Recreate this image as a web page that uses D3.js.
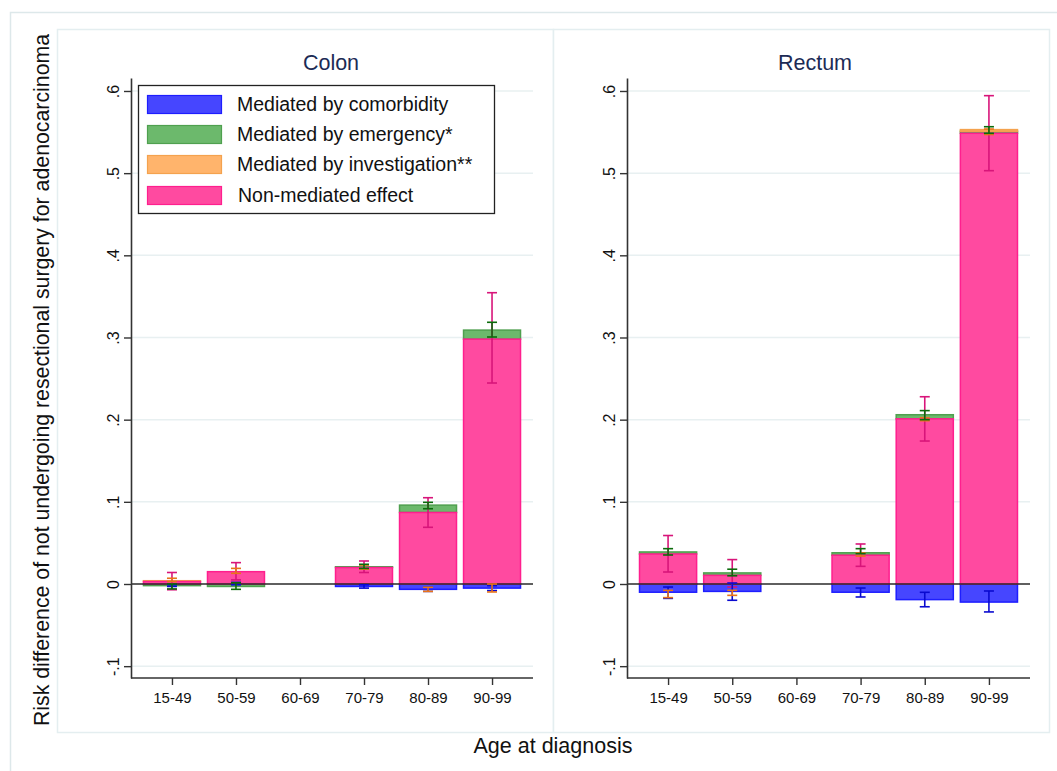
<!DOCTYPE html>
<html>
<head>
<meta charset="utf-8">
<script src="https://cdn.jsdelivr.net/npm/d3@7"></script>
<style>
  html, body { margin: 0; padding: 0; background: #ffffff; }
  svg { display: block; font-family: "Liberation Sans", Arial, sans-serif; }
</style>
</head>
<body>
<svg id="chart" width="1057" height="771"></svg>
<script>
// ---------------- data ----------------
const categories = ["15-49", "50-59", "60-69", "70-79", "80-89", "90-99"];
const panels = ["Colon", "Rectum"];
const yTicks = [-0.1, 0, 0.1, 0.2, 0.3, 0.4, 0.5, 0.6];
const yTickLabels = ["-.1", "0", ".1", ".2", ".3", ".4", ".5", ".6"];
const seriesNames = ["Mediated by comorbidity", "Mediated by emergency*", "Mediated by investigation**", "Non-mediated effect"];

// Colon: component values (null = no data)
const colonComorb = [0.000, 0.000, null, -0.003, -0.0065, -0.005];
const colonEmerg  = [-0.002, -0.003, null, 0.001, 0.009, 0.011];
const colonInvest = [0.001, 0.000, null, 0.000, 0.000, 0.000];
const colonNonmed = [0.003, 0.015, null, 0.020, 0.087, 0.298];
// Colon: confidence intervals [low, high] at stacked position
const colonComorbCI = [[-0.003, -0.001], [-0.001, 0.002], null, [-0.005, -0.001], [-0.009, -0.004], [-0.008, -0.002]];
const colonEmergCI  = [[-0.006, 0.000], [-0.0065, 0.0015], null, [0.019, 0.024], [0.0916, 0.0994], [0.3006, 0.3185]];
const colonInvestCI = [[0.003, 0.007], [0.013, 0.019], null, [0.018, 0.023], [-0.009, -0.004], [-0.0097, 0.000]];
const colonNonmedCI = [[-0.007, 0.014], [0.005, 0.026], null, [0.014, 0.028], [0.069, 0.105], [0.2446, 0.3545]];

// Rectum: component values
const rectumComorb = [-0.010, -0.009, null, -0.010, -0.019, -0.022];
const rectumEmerg  = [0.0025, 0.003, null, 0.003, 0.005, 0.0025];
const rectumInvest = [0.000, 0.000, null, 0.000, 0.000, 0.002];
const rectumNonmed = [0.0365, 0.0105, null, 0.035, 0.201, 0.5485];
// Rectum: confidence intervals
const rectumComorbCI = [[-0.0175, -0.0037], [-0.0198, 0.0012], null, [-0.0158, -0.0049], [-0.0277, -0.0101], [-0.034, -0.0085]];
const rectumEmergCI  = [[0.0353, 0.043], [0.010, 0.018], null, [0.037, 0.043], [0.200, 0.211], [0.5485, 0.5565]];
const rectumInvestCI = [[-0.0166, -0.0077], [-0.0138, -0.0077], null, [0.034, 0.038], [0.1987, 0.2024], [0.547, 0.5537]];
const rectumNonmedCI = [[0.0146, 0.059], [-0.0037, 0.0297], null, [0.0215, 0.0487], [0.174, 0.2279], [0.503, 0.5943]];

// ---------------- styles ----------------
const fills   = { comorb: "#4646ff", emerg: "#6cb96c", invest: "#ffb46c", nonmed: "#ff4aa0" };
const strokes = { comorb: "#1e1eff", emerg: "#4fa04f", invest: "#f4a24e", nonmed: "#ff1f8e" };
const errCols = { comorb: "#0a0ad0", emerg: "#0b6b0b", invest: "#e8741a", nonmed: "#d8157a" };
const keys = ["comorb", "emerg", "invest", "nonmed"];

const panelData = [
  { title: "Colon",
    vals: { comorb: colonComorb, emerg: colonEmerg, invest: colonInvest, nonmed: colonNonmed },
    ci:   { comorb: colonComorbCI, emerg: colonEmergCI, invest: colonInvestCI, nonmed: colonNonmedCI },
    axisX: 131, axisEnd: 533, boxX: 57, boxW: 496, titleX: 331 },
  { title: "Rectum",
    vals: { comorb: rectumComorb, emerg: rectumEmerg, invest: rectumInvest, nonmed: rectumNonmed },
    ci:   { comorb: rectumComorbCI, emerg: rectumEmergCI, invest: rectumInvestCI, nonmed: rectumNonmedCI },
    axisX: 627, axisEnd: 1030, boxX: 553, boxW: 496, titleX: 815 }
];

const svg = d3.select("#chart");

// outer frame
svg.append("rect").attr("x", 10.5).attr("y", 12.5).attr("width", 1060).attr("height", 770)
  .attr("fill", "#ffffff").attr("stroke", "#dde8ea").attr("stroke-width", 1.5);

const yTop = 78, yBot = 678;
const y = d3.scaleLinear().domain([-0.1144, 0.6158]).range([yBot, yTop]);

// stacking order for positive / negative parts
const stackOrder = ["nonmed", "emerg", "invest", "comorb"];
const negOrder = ["comorb", "invest", "emerg", "nonmed"];

panelData.forEach(p => {
  const g = svg.append("g");
  // panel box
  g.append("rect").attr("x", p.boxX + 0.5).attr("y", 29.5).attr("width", p.boxW).attr("height", 703)
    .attr("fill", "#ffffff").attr("stroke", "#e4eef0").attr("stroke-width", 1.5);

  g.append("text").attr("x", p.titleX).attr("y", 70).attr("text-anchor", "middle")
    .attr("font-size", 21.5).attr("fill", "#1c2b55").text(p.title);

  const x = d3.scalePoint().domain(categories).range([p.axisX, p.axisEnd]).padding(0.64);
  const bw = x.step() * 0.89;

  // gridlines
  g.selectAll(".grid").data(yTicks.filter(t => t !== 0)).join("line")
    .attr("x1", p.axisX).attr("x2", p.axisEnd)
    .attr("y1", d => y(d)).attr("y2", d => y(d))
    .attr("stroke", "#e8f0f1").attr("stroke-width", 1.5);

  // stacked bars
  const segs = [];
  categories.forEach((c, i) => {
    if (p.vals.nonmed[i] === null) return;
    let pos = 0, neg = 0;
    const tmp = {};
    stackOrder.forEach(k => {
      const v = p.vals[k][i];
      if (v > 0) { tmp[k] = [pos, pos + v]; pos += v; }
    });
    negOrder.forEach(k => {
      const v = p.vals[k][i];
      if (v < 0) { tmp[k] = [neg + v, neg]; neg += v; }
    });
    keys.forEach(k => { if (tmp[k]) segs.push({ c, k, y0: tmp[k][0], y1: tmp[k][1] }); });
  });
  g.selectAll(".bar").data(segs).join("rect")
    .attr("x", d => x(d.c) - bw / 2)
    .attr("width", bw)
    .attr("y", d => y(d.y1))
    .attr("height", d => Math.max(0.5, y(d.y0) - y(d.y1)))
    .attr("fill", d => fills[d.k])
    .attr("stroke", d => strokes[d.k])
    .attr("stroke-width", 1.5);

  // zero line
  g.append("line").attr("x1", p.axisX).attr("x2", p.axisEnd)
    .attr("y1", y(0)).attr("y2", y(0)).attr("stroke", "#2a2a2a").attr("stroke-width", 1.6);

  // error bars
  const errOrder = ["nonmed", "comorb", "invest", "emerg"];
  errOrder.forEach(k => {
    const data = categories.map((c, i) => ({ c, ci: p.ci[k][i] })).filter(d => d.ci);
    const eg = g.append("g").attr("stroke", errCols[k]).attr("stroke-width", 1.6);
    eg.selectAll(".v").data(data).join("line")
      .attr("x1", d => x(d.c)).attr("x2", d => x(d.c))
      .attr("y1", d => y(d.ci[0])).attr("y2", d => y(d.ci[1]));
    eg.selectAll(".lo").data(data).join("line")
      .attr("x1", d => x(d.c) - 5).attr("x2", d => x(d.c) + 5)
      .attr("y1", d => y(d.ci[0])).attr("y2", d => y(d.ci[0]));
    eg.selectAll(".hi").data(data).join("line")
      .attr("x1", d => x(d.c) - 5).attr("x2", d => x(d.c) + 5)
      .attr("y1", d => y(d.ci[1])).attr("y2", d => y(d.ci[1]));
  });

  // y axis
  const yAxis = d3.axisLeft(y).tickValues(yTicks).tickSize(7).tickSizeOuter(0)
    .tickFormat((d, i) => yTickLabels[i]);
  const ya = g.append("g").attr("transform", `translate(${p.axisX},0)`).call(yAxis);
  ya.select(".domain").attr("stroke", "#333").attr("stroke-width", 1.6);
  ya.selectAll(".tick line").attr("stroke", "#333").attr("stroke-width", 1.4);
  ya.selectAll(".tick text")
    .attr("font-size", 16).attr("fill", "#111").attr("font-family", "Liberation Sans, Arial, sans-serif")
    .attr("transform", "rotate(-90)")
    .attr("x", 0).attr("y", -12).attr("dy", 0)
    .attr("text-anchor", "middle");

  // x axis
  const xAxis = d3.axisBottom(x).tickSize(7).tickSizeOuter(0);
  const xa = g.append("g").attr("transform", `translate(0,${yBot})`).call(xAxis);
  xa.select(".domain").attr("stroke", "#333").attr("stroke-width", 1.6)
    .attr("d", `M${p.axisX},0H${p.axisEnd}`);
  xa.selectAll(".tick line").attr("stroke", "#333").attr("stroke-width", 1.4);
  xa.selectAll(".tick text").attr("font-size", 15).attr("fill", "#111")
    .attr("font-family", "Liberation Sans, Arial, sans-serif").attr("y", 14).attr("dy", "0.71em");
});

// legend
const lg = svg.append("g");
lg.append("rect").attr("x", 138.5).attr("y", 85.5).attr("width", 356).attr("height", 128)
  .attr("fill", "#ffffff").attr("stroke", "#222").attr("stroke-width", 1.3);
const legendKeys = ["comorb", "emerg", "invest", "nonmed"];
const legendY = [95, 125, 155, 186];
legendKeys.forEach((k, i) => {
  lg.append("rect").attr("x", 147.5).attr("y", legendY[i] + 0.5).attr("width", 74).attr("height", 18)
    .attr("fill", fills[k]).attr("stroke", strokes[k]).attr("stroke-width", 1.2);
  lg.append("text").attr("x", i === 3 ? 238 : 237).attr("y", legendY[i] + 16)
    .attr("font-size", 19.5).attr("fill", "#111").text(seriesNames[i]);
});

// axis titles
svg.append("text").attr("x", 553).attr("y", 753).attr("text-anchor", "middle")
  .attr("font-size", 21.5).attr("fill", "#111").text("Age at diagnosis");
svg.append("text").attr("transform", "translate(49,380) rotate(-90)").attr("text-anchor", "middle")
  .attr("font-size", 21.3).attr("fill", "#111")
  .text("Risk difference of not undergoing resectional surgery for adenocarcinoma");
</script>
</body>
</html>
